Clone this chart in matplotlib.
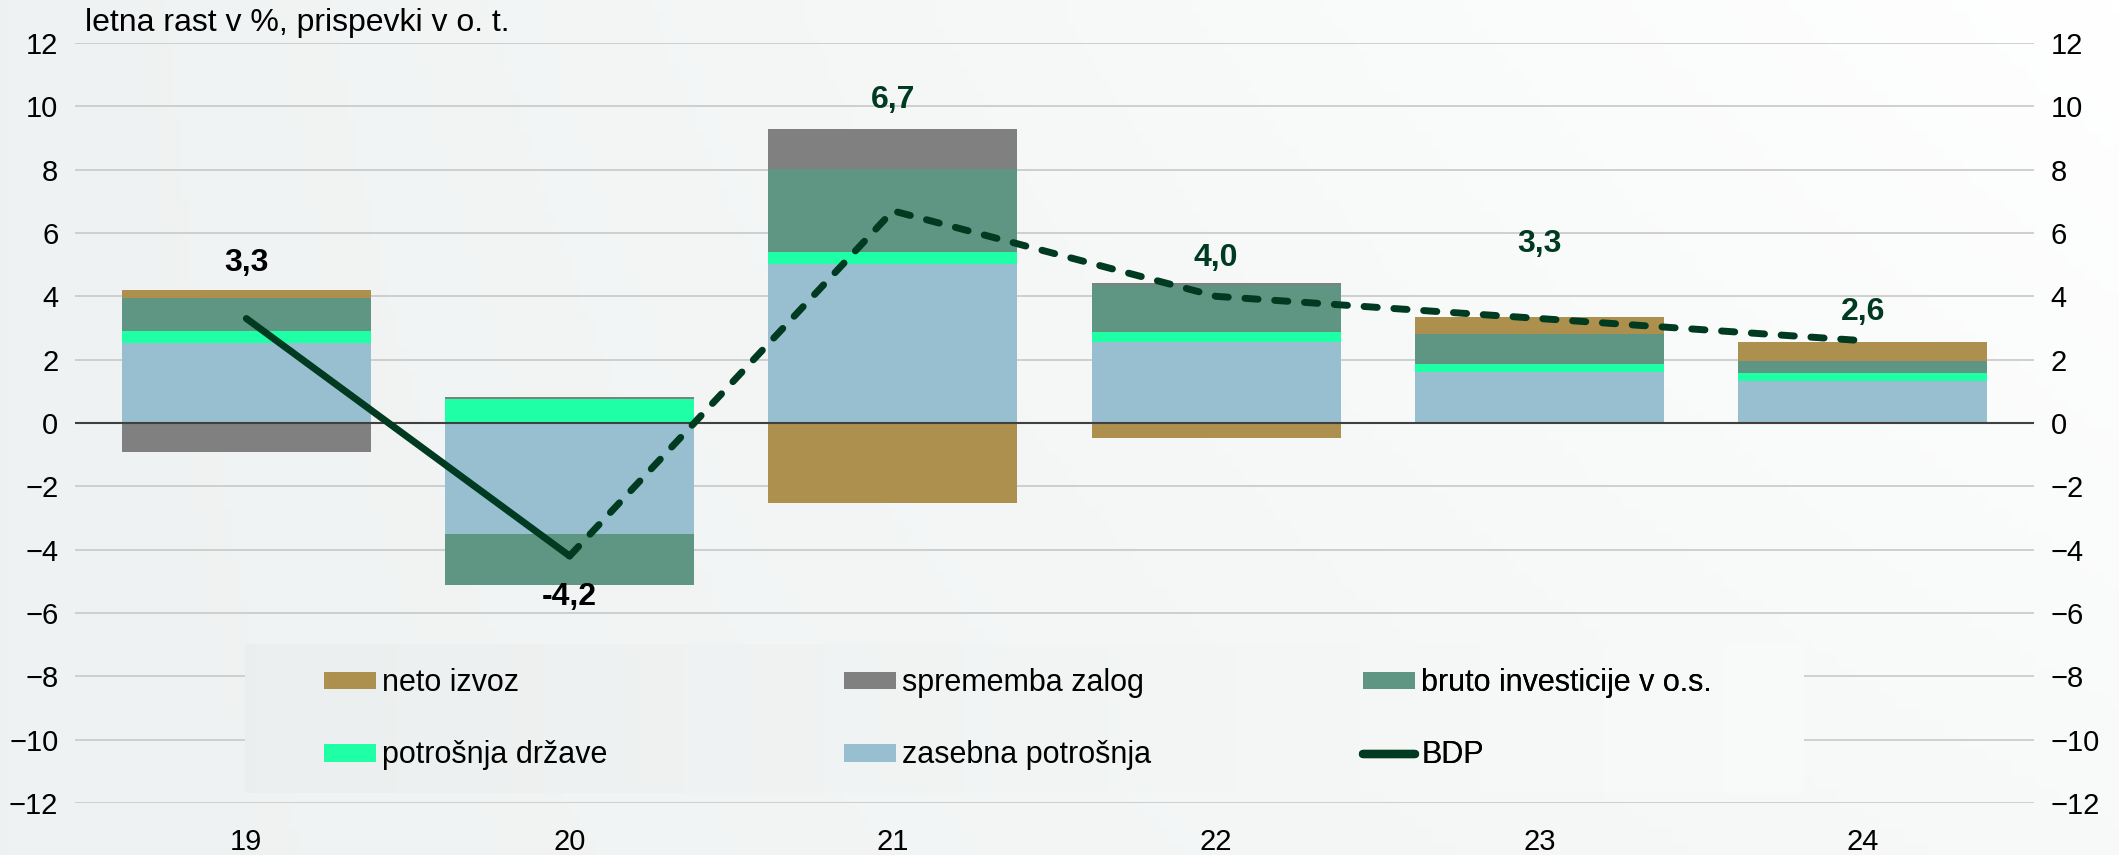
import numpy as np
import matplotlib
matplotlib.use("Agg")
import matplotlib.pyplot as plt
from matplotlib.lines import Line2D
from matplotlib.patches import Patch

plt.rcParams['font.family'] = ['Liberation Sans', 'DejaVu Sans']

years = ["19", "20", "21", "22", "23", "24"]
zasebna = [2.54, -3.51, 5.02, 2.56, 1.61, 1.33]
drzava = [0.35, 0.75, 0.39, 0.30, 0.26, 0.26]
investicije = [1.05, -1.62, 2.62, 1.51, 0.95, 0.37]
zaloge = [-0.91, 0.08, 1.24, 0.05, 0.0, 0.0]
izvoz = [0.27, 0.0, -2.52, -0.46, 0.54, 0.59]
bdp = [3.3, -4.2, 6.7, 4.0, 3.3, 2.6]
bdp_labels = ["3,3", "-4,2", "6,7", "4,0", "3,3", "2,6"]

series = [
    ("zasebna potrošnja", zasebna, "#97bfcf"),
    ("potrošnja države", drzava, "#1effa6"),
    ("bruto investicije v o.s.", investicije, "#5f9683"),
    ("sprememba zalog", zaloge, "#808080"),
    ("neto izvoz", izvoz, "#ad904d"),
]
line_color = "#003a20"

fig = plt.figure(figsize=(21.19, 8.55), dpi=100)

# background gradient
bg = fig.add_axes([0, 0, 1, 1], zorder=-10)
gx = np.linspace(0, 1, 256)
gy = np.linspace(0, 1, 64)
G = np.clip(0.55 * gx[None, :] + 0.45 * (1 - gy[:, None]) * gx[None, :], 0, 1)
c0 = np.array([0.937, 0.949, 0.949])
c1 = np.array([1.0, 1.0, 1.0])
img = c0[None, None, :] * (1 - G[..., None]) + c1[None, None, :] * G[..., None]
bg.imshow(img, aspect='auto', extent=[0, 1, 0, 1], origin='upper')
bg.axis('off')

ax = fig.add_axes([0.0354, 0.0608, 0.9245, 0.8889])
ax.patch.set_alpha(0)

x = np.arange(len(years))
width = 0.77
pos_base = np.zeros(len(years))
neg_base = np.zeros(len(years))
for name, vals, col in series:
    v = np.array(vals, dtype=float)
    bottoms = np.where(v >= 0, pos_base, neg_base)
    ax.bar(x, v, width, bottom=bottoms, color=col, linewidth=0, zorder=3)
    pos_base = pos_base + np.where(v > 0, v, 0)
    neg_base = neg_base + np.where(v < 0, v, 0)

# BDP line
ax.plot(x[:2], bdp[:2], color=line_color, lw=5, solid_capstyle='round', zorder=5)
ax.plot(x[1:], bdp[1:], color=line_color, lw=5, linestyle=(0, (1.9, 2.4)),
        dash_capstyle='round', zorder=5)

# labels
label_colors = ["black", "black", line_color, line_color, line_color, line_color]
label_offset = [0.85, -0.35, 0.93, 0.8, 2.3, 0.95]
for i in range(len(years)):
    base = neg_base[i] if i == 1 else pos_base[i]
    ax.text(x[i], base + label_offset[i], bdp_labels[i], ha='center', va='center',
            fontsize=23, fontweight='bold', color=label_colors[i], zorder=6)

ax.set_xlim(-0.53, len(years) - 0.47)
ax.set_ylim(-12, 12)
ax.set_yticks(np.arange(-12, 13, 2))
ax.set_xticks(x)
ax.set_xticklabels(years)
ax.grid(axis='y', color='#c8c8c8', lw=1.2, zorder=0)
ax.axhline(0, color='#404040', lw=1.5, zorder=4)
for s in ax.spines.values():
    s.set_visible(False)
ax.tick_params(axis='both', length=0, labelsize=21, colors='black')
ax.tick_params(axis='y', labelright=True, pad=12)
ax.tick_params(axis='x', pad=18)

fig.text(0.040, 0.973, "letna rast v %, prispevki v o. t.", fontsize=23,
         va='center', ha='left')

# legend background box with gradient
lg = np.linspace(0, 1, 256)[None, :]
lc0 = np.array([0.925, 0.937, 0.937])
lc1 = np.array([0.975, 0.98, 0.98])
limg = lc0[None, None, :] * (1 - lg[..., None]) + lc1[None, None, :] * lg[..., None]
ax.imshow(limg, aspect='auto', extent=[0.0868, 0.8826, 0.013, 0.208],
          transform=ax.transAxes, zorder=6, origin='upper')
ax.set_xlim(-0.53, len(years) - 0.47)
ax.set_ylim(-12, 12)
ax.set_aspect('auto')

columns = [
    [Patch(facecolor="#ad904d", label="neto izvoz"),
     Patch(facecolor="#1effa6", label="potrošnja države")],
    [Patch(facecolor="#808080", label="sprememba zalog"),
     Patch(facecolor="#97bfcf", label="zasebna potrošnja")],
    [Patch(facecolor="#5f9683", label="bruto investicije v o.s."),
     Line2D([0], [0], color=line_color, lw=6, solid_capstyle='round', label="BDP")],
]
col_x = [0.1271, 0.3925, 0.6575]
for cx, hs in zip(col_x, columns):
    leg = ax.legend(handles=hs, loc='center left', bbox_to_anchor=(cx, 0.11),
                    fontsize=22, frameon=False, borderaxespad=0, borderpad=0,
                    handlelength=1.7, handleheight=0.52, handletextpad=0.2,
                    labelspacing=1.38)
    leg.set_zorder(7)
    ax.add_artist(leg)

fig.savefig("out.png", dpi=100)
